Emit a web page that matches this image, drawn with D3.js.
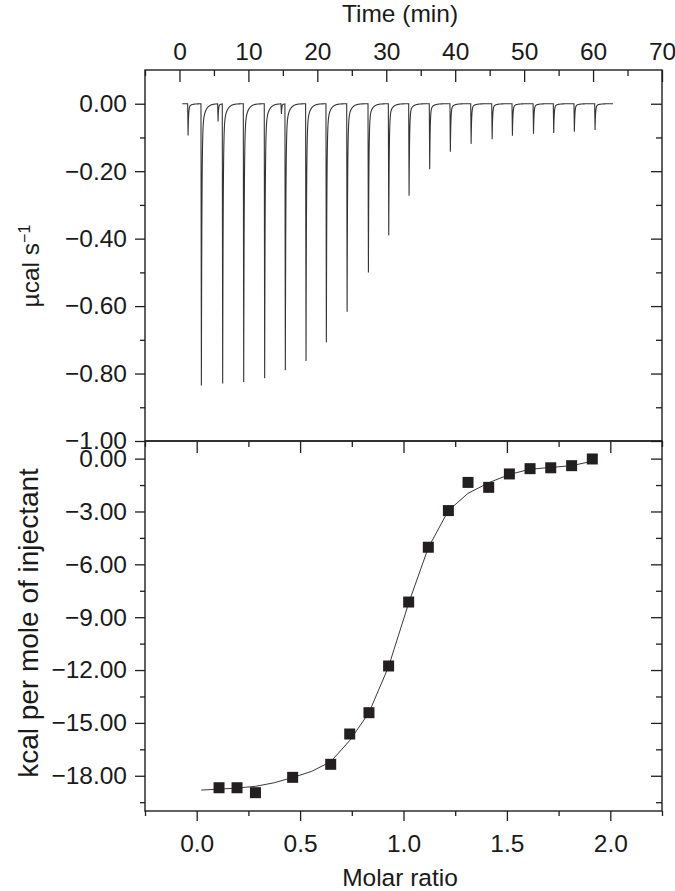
<!DOCTYPE html>
<html>
<head>
<meta charset="utf-8">
<script src="https://cdn.jsdelivr.net/npm/d3@7"></script>
<style>
  html, body { margin: 0; padding: 0; background: #fff; }
  svg { display: block; font-family: "Liberation Sans", Arial, Helvetica, sans-serif; }
  text { fill: #1a1a1a; }
</style>
</head>
<body>
<svg id="chart" width="675" height="891"></svg>
<script>
// ---- Data ----
// Thermogram: injection times (min) and peak depths (µcal/s)
const injTime  = [1.19, 3.12, 6.21, 9.26, 12.3, 15.3, 18.3, 21.25, 24.26, 27.35, 30.3,
                  33.25, 36.24, 39.24, 42.25, 45.3, 48.24, 51.3, 54.23, 57.23, 60.23];
const injDepth = [-0.094, -0.835, -0.829, -0.825, -0.814, -0.790, -0.763, -0.707, -0.617, -0.500, -0.390,
                  -0.273, -0.194, -0.142, -0.119, -0.105, -0.095, -0.089, -0.087, -0.083, -0.078];
const spikeTime  = [5.54, 14.73];
const spikeDepth = [-0.052, -0.030];
const traceStart = 0.4, traceEnd = 62.9;

// Binding isotherm: molar ratio vs kcal per mole of injectant
const molarRatio = [0.108, 0.195, 0.284, 0.464, 0.648, 0.740, 0.833, 0.928, 1.025, 1.120,
                    1.217, 1.312, 1.412, 1.512, 1.612, 1.712, 1.813, 1.913];
const heat       = [-18.68, -18.68, -18.96, -18.09, -17.35, -15.63, -14.42, -11.77, -8.14, -5.03,
                    -2.95, -1.35, -1.63, -0.87, -0.57, -0.52, -0.40, -0.02];
// Fitted curve values
const fitX = [0.022, 0.108, 0.195, 0.284, 0.374, 0.464, 0.556, 0.648, 0.740, 0.833, 0.928,
              1.025, 1.120, 1.217, 1.312, 1.412, 1.512, 1.612, 1.712, 1.813, 1.913];
const fitY = [-18.81, -18.76, -18.70, -18.60, -18.40, -18.10, -17.75, -17.20, -16.00, -14.42, -11.80,
              -8.20, -5.05, -2.95, -1.97, -1.37, -0.90, -0.60, -0.50, -0.40, -0.15];

// Tick values
const timeTicks  = [0, 10, 20, 30, 40, 50, 60, 70];
const timeMinor  = [-5, 5, 15, 25, 35, 45, 55, 65];
const powerTicks = [0, -0.2, -0.4, -0.6, -0.8, -1.0];
const powerMinor = [-0.1, -0.3, -0.5, -0.7, -0.9];
const heatTicks  = [0, -3, -6, -9, -12, -15, -18];
const heatMinor  = [-1.5, -4.5, -7.5, -10.5, -13.5, -16.5, -19.5];
const molTicks   = [0, 0.5, 1.0, 1.5, 2.0];
const molMinor   = [-0.25, 0.25, 0.75, 1.25, 1.75, 2.25];

// ---- Layout ----
const L = 145, R = 662, T = 70, MID = 441, B = 811;
const FS = 24.5;
const ink = "#1f1f1f";

const svg = d3.select("#chart");

const xTime = d3.scaleLinear().domain([-5, 70]).range([L, R]);
const yTop  = d3.scaleLinear().domain([-1, 0.1]).range([MID, T]);
const xMol  = d3.scaleLinear().domain([-0.25, 2.25]).range([L, R]);
const yBot  = d3.scaleLinear().domain([-20, 1]).range([B, MID]);

function styleAxis(g) {
  g.select(".domain").remove();
  g.selectAll(".tick line").attr("stroke", ink).attr("stroke-width", 1.3);
  g.selectAll(".tick text").attr("font-size", FS).attr("fill", ink)
    .attr("font-family", "'Liberation Sans', Arial, sans-serif");
}
function noLabels(g) { g.selectAll(".tick text").remove(); }

// ---- Top panel axes ----
svg.append("g").attr("transform", `translate(0,${T})`)
  .call(d3.axisTop(xTime).tickValues(timeTicks).tickSize(-12).tickPadding(10).tickFormat(d3.format("d")))
  .call(styleAxis);
svg.append("g").attr("transform", `translate(0,${T})`)
  .call(d3.axisTop(xTime).tickValues(timeMinor).tickSize(-6).tickFormat(""))
  .call(styleAxis);

const fmt2 = d3.format(".2f");
svg.append("g").attr("transform", `translate(${L},0)`)
  .call(d3.axisLeft(yTop).tickValues(powerTicks).tickSize(10).tickPadding(8).tickFormat(fmt2))
  .call(styleAxis);
svg.append("g").attr("transform", `translate(${L},0)`)
  .call(d3.axisLeft(yTop).tickValues(powerMinor).tickSize(5).tickFormat(""))
  .call(styleAxis);
svg.append("g").attr("transform", `translate(${R},0)`)
  .call(d3.axisRight(yTop).tickValues(powerTicks).tickSize(-11).tickFormat(""))
  .call(styleAxis).call(noLabels);
svg.append("g").attr("transform", `translate(${R},0)`)
  .call(d3.axisRight(yTop).tickValues(powerMinor).tickSize(-6).tickFormat(""))
  .call(styleAxis).call(noLabels);

// ---- Bottom panel axes ----
svg.append("g").attr("transform", `translate(0,${B})`)
  .call(d3.axisBottom(xMol).tickValues(molTicks).tickSize(10).tickPadding(14).tickFormat(d3.format(".1f")))
  .call(styleAxis);
svg.append("g").attr("transform", `translate(0,${B})`)
  .call(d3.axisBottom(xMol).tickValues(molMinor).tickSize(5).tickFormat(""))
  .call(styleAxis);
svg.append("g").attr("transform", `translate(0,${MID})`)
  .call(d3.axisTop(xMol).tickValues(molTicks).tickSize(-12).tickFormat(""))
  .call(styleAxis).call(noLabels);
svg.append("g").attr("transform", `translate(0,${MID})`)
  .call(d3.axisTop(xMol).tickValues(molMinor).tickSize(-6).tickFormat(""))
  .call(styleAxis).call(noLabels);

svg.append("g").attr("transform", `translate(${L},0)`)
  .call(d3.axisLeft(yBot).tickValues(heatTicks).tickSize(10).tickPadding(8).tickFormat(fmt2))
  .call(styleAxis);
svg.append("g").attr("transform", `translate(${L},0)`)
  .call(d3.axisLeft(yBot).tickValues(heatMinor).tickSize(5).tickFormat(""))
  .call(styleAxis);
svg.append("g").attr("transform", `translate(${R},0)`)
  .call(d3.axisRight(yBot).tickValues(heatTicks).tickSize(-11).tickFormat(""))
  .call(styleAxis).call(noLabels);
svg.append("g").attr("transform", `translate(${R},0)`)
  .call(d3.axisRight(yBot).tickValues(heatMinor).tickSize(-6).tickFormat(""))
  .call(styleAxis).call(noLabels);

// ---- Frames ----
svg.append("rect").attr("x", L).attr("y", T).attr("width", R - L).attr("height", MID - T)
  .attr("fill", "none").attr("stroke", ink).attr("stroke-width", 1.4);
svg.append("rect").attr("x", L).attr("y", MID).attr("width", R - L).attr("height", B - MID)
  .attr("fill", "none").attr("stroke", ink).attr("stroke-width", 1.4);

// ---- Thermogram trace ----
function peakShape(s, d, fast, slow, wSlow) {
  const rise = 0.06;
  if (s < 0) return 0;
  if (s < rise) return d * s / rise;
  const u = s - rise;
  return d * ((1 - wSlow) * Math.exp(-u / fast) + wSlow * Math.exp(-u / slow));
}
const tSamples = d3.range(traceStart, traceEnd, 0.01).concat([traceEnd]);
const trace = tSamples.map(t => {
  let v = 0;
  injTime.forEach((ti, i) => { v += peakShape(t - ti, injDepth[i], 0.07, 0.45, 0.1); });
  spikeTime.forEach((ti, i) => { v += peakShape(t - ti, spikeDepth[i], 0.06, 0.3, 0.1); });
  return [t, v];
});
svg.append("path")
  .datum(trace)
  .attr("fill", "none").attr("stroke", "#333").attr("stroke-width", 1.1)
  .attr("d", d3.line().x(d => xTime(d[0])).y(d => yTop(d[1])));

// ---- Isotherm fit and points ----
svg.append("path")
  .datum(fitX.map((x, i) => [x, fitY[i]]))
  .attr("fill", "none").attr("stroke", "#3a3a3a").attr("stroke-width", 1)
  .attr("d", d3.line().x(d => xMol(d[0])).y(d => yBot(d[1])));

const SQ = 11;
svg.append("g").selectAll("rect")
  .data(molarRatio.map((x, i) => [x, heat[i]]))
  .join("rect")
  .attr("x", d => xMol(d[0]) - SQ / 2)
  .attr("y", d => yBot(d[1]) - SQ / 2)
  .attr("width", SQ).attr("height", SQ)
  .attr("fill", "#231f20");

// ---- Titles ----
svg.append("text").attr("x", 400).attr("y", 22).attr("text-anchor", "middle")
  .attr("font-size", FS).text("Time (min)");
svg.append("text").attr("x", 400).attr("y", 886).attr("text-anchor", "middle")
  .attr("font-size", FS).text("Molar ratio");

const yl1 = svg.append("text").attr("transform", "translate(39,266) rotate(-90)")
  .attr("text-anchor", "middle").attr("font-size", FS);
yl1.append("tspan").text("µcal s");
yl1.append("tspan").attr("font-size", 16).attr("dy", -9).text("−1");

svg.append("text").attr("transform", "translate(38,623) rotate(-90)")
  .attr("text-anchor", "middle").attr("font-size", 28).text("kcal per mole of injectant");
</script>
</body>
</html>
